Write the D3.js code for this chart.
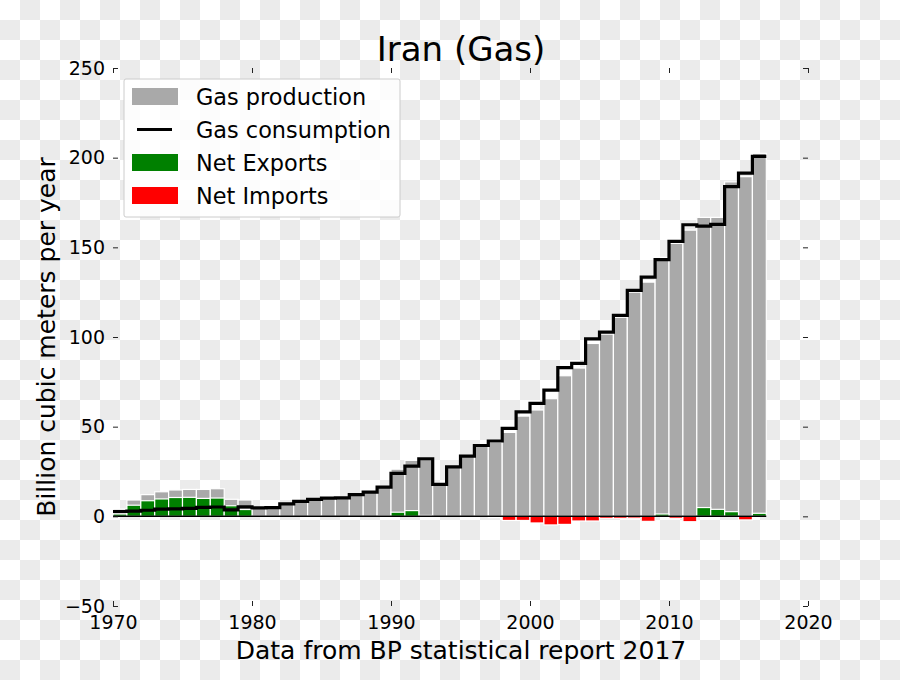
<!DOCTYPE html>
<html>
<head>
<meta charset="utf-8">
<script src="https://cdn.jsdelivr.net/npm/d3@7"></script>
<style>
  html, body { margin: 0; padding: 0; background: #fff; }
  svg { display: block; font-family: "DejaVu Sans", sans-serif; }
</style>
</head>
<body>
<svg id="chart" width="900" height="680"></svg>
<script>
// ---- data ----
const years = [1970,1971,1972,1973,1974,1975,1976,1977,1978,1979,
               1980,1981,1982,1983,1984,1985,1986,1987,1988,1989,
               1990,1991,1992,1993,1994,1995,1996,1997,1998,1999,
               2000,2001,2002,2003,2004,2005,2006,2007,2008,2009,
               2010,2011,2012,2013,2014,2015,2016];
const production = [4.0,9.1,12.1,13.7,14.7,15.0,15.0,15.4,9.5,9.1,
                    4.6,4.8,7.0,8.3,9.4,10.2,10.3,12.1,13.5,16.4,
                    26.3,31.2,32.6,17.8,27.6,33.6,39.4,41.3,46.8,55.9,
                    59.3,65.6,78.4,82.7,96.4,101.6,111.0,125.0,130.6,144.4,
                    152.2,159.6,166.7,166.7,186.5,189.4,202.4];
const consumption = [2.7,2.9,3.4,4.0,4.2,4.4,5.0,5.2,3.6,5.3,
                     4.7,4.9,7.0,8.3,9.5,10.2,10.3,12.1,13.5,16.3,
                     24.0,28.0,32.1,17.8,27.6,33.6,39.5,42.0,49.1,58.2,
                     63.0,70.4,82.9,85.3,99.0,102.7,112.1,126.0,133.4,143.1,
                     153.3,162.6,161.8,162.8,183.9,191.4,200.7];
const xTicks = [1970,1980,1990,2000,2010,2020];
const yTicks = [-50,0,50,100,150,200,250];
const legendLabels = ["Gas production","Gas consumption","Net Exports","Net Imports"];

// ---- setup ----
const svg = d3.select("#chart");
const W = 900, H = 680;

// checkerboard background
const defs = svg.append("defs");
const pat = defs.append("pattern").attr("id","checker")
  .attr("width",40).attr("height",40).attr("patternUnits","userSpaceOnUse");
pat.append("rect").attr("width",40).attr("height",40).attr("fill","#ffffff");
pat.append("rect").attr("x",20).attr("y",0).attr("width",20).attr("height",20).attr("fill","#ebebeb");
pat.append("rect").attr("x",0).attr("y",20).attr("width",20).attr("height",20).attr("fill","#ebebeb");
svg.append("rect").attr("width",W).attr("height",H).attr("fill","url(#checker)");

const x = d3.scaleLinear().domain([1970,2020]).range([113,808]);
const y = d3.scaleLinear().domain([-50,250]).range([606,68]);

const rows = years.map((yr,i)=>({yr, p:production[i], c:consumption[i], n:production[i]-consumption[i]}));

// production bars
svg.append("g").selectAll("rect").data(rows).join("rect")
  .attr("x", d=>x(d.yr)).attr("width", d=>x(d.yr+1)-x(d.yr))
  .attr("y", d=>y(d.p)).attr("height", d=>y(0)-y(d.p))
  .attr("fill","#a9a9a9").attr("stroke","#ffffff").attr("stroke-width",1.2);

// net bars
svg.append("g").selectAll("rect").data(rows).join("rect")
  .attr("x", d=>x(d.yr)).attr("width", d=>x(d.yr+1)-x(d.yr))
  .attr("y", d=>d.n>=0 ? y(d.n) : y(0)).attr("height", d=>Math.abs(y(d.n)-y(0)))
  .attr("fill", d=>d.n>=0 ? "#008000" : "#ff0000")
  .attr("stroke","#ffffff").attr("stroke-width",1.2);

// zero line
svg.append("line").attr("x1",x(1970)).attr("x2",x(2017)).attr("y1",y(0)).attr("y2",y(0))
  .attr("stroke","#000").attr("stroke-width",1.5);

// consumption step line
const stepPts = rows.map(d=>[d.yr,d.c]).concat([[2017, consumption[consumption.length-1]]]);
const stepLine = d3.line().x(d=>x(d[0])).y(d=>y(d[1])).curve(d3.curveStepAfter);
svg.append("path").attr("d", stepLine(stepPts)).attr("fill","none")
  .attr("stroke","#000").attr("stroke-width",3.2).attr("stroke-linejoin","miter");

// axes (ticks inward, no spines)
const tickLen = 5;
const axBottom = d3.axisBottom(x).tickValues(xTicks).tickSize(-tickLen).tickPadding(9).tickFormat(d3.format("d"));
const gB = svg.append("g").attr("transform",`translate(0,${y(-50)})`).call(axBottom);
const axTop = d3.axisTop(x).tickValues(xTicks).tickSize(-tickLen).tickFormat("");
const gT = svg.append("g").attr("transform",`translate(0,${y(250)})`).call(axTop);
const axLeft = d3.axisLeft(y).tickValues(yTicks).tickSize(-tickLen).tickPadding(8)
  .tickFormat(d=> d<0 ? "\u2212"+Math.abs(d) : String(d));
const gL = svg.append("g").attr("transform",`translate(${x(1970)},0)`).call(axLeft);
const axRight = d3.axisRight(y).tickValues(yTicks).tickSize(-tickLen).tickFormat("");
const gR = svg.append("g").attr("transform",`translate(${x(2020)},0)`).call(axRight);
[gB,gT,gL,gR].forEach(g=>{
  g.select(".domain").remove();
  g.selectAll(".tick line").attr("stroke","#222").attr("stroke-width",1);
  g.selectAll("text").attr("font-size",19).attr("font-family","DejaVu Sans").attr("fill","#000");
});
gB.selectAll("text").attr("y",10).attr("dy","0.71em");

// title and labels
svg.append("text").attr("x",461).attr("y",61).attr("text-anchor","middle")
  .attr("font-size",34).text("Iran (Gas)");
svg.append("text").attr("x",461).attr("y",659).attr("text-anchor","middle")
  .attr("font-size",25).text("Data from BP statistical report 2017");
svg.append("text").attr("transform",`translate(55,${(y(-50)+y(250))/2}) rotate(-90)`)
  .attr("text-anchor","middle").attr("font-size",25).text("Billion cubic meters per year");

// legend
const lg = svg.append("g");
lg.append("rect").attr("x",124).attr("y",79).attr("width",276).attr("height",138)
  .attr("fill","#ffffff").attr("fill-opacity",0.82).attr("stroke","#cccccc").attr("stroke-width",1).attr("rx",2);
const rowY = [96.5, 129.5, 162.5, 195.5];
const legendColors = ["#a9a9a9", null, "#008000", "#ff0000"];
legendLabels.forEach((lab,i)=>{
  if (legendColors[i]) {
    lg.append("rect").attr("x",132).attr("y",rowY[i]-8.5).attr("width",46).attr("height",17)
      .attr("fill",legendColors[i]);
  } else {
    lg.append("line").attr("x1",137).attr("x2",172).attr("y1",rowY[i]).attr("y2",rowY[i])
      .attr("stroke","#000").attr("stroke-width",3);
  }
  lg.append("text").attr("x",196).attr("y",rowY[i]+8.5).attr("font-size",22.4).text(lab);
});
</script>
</body>
</html>
